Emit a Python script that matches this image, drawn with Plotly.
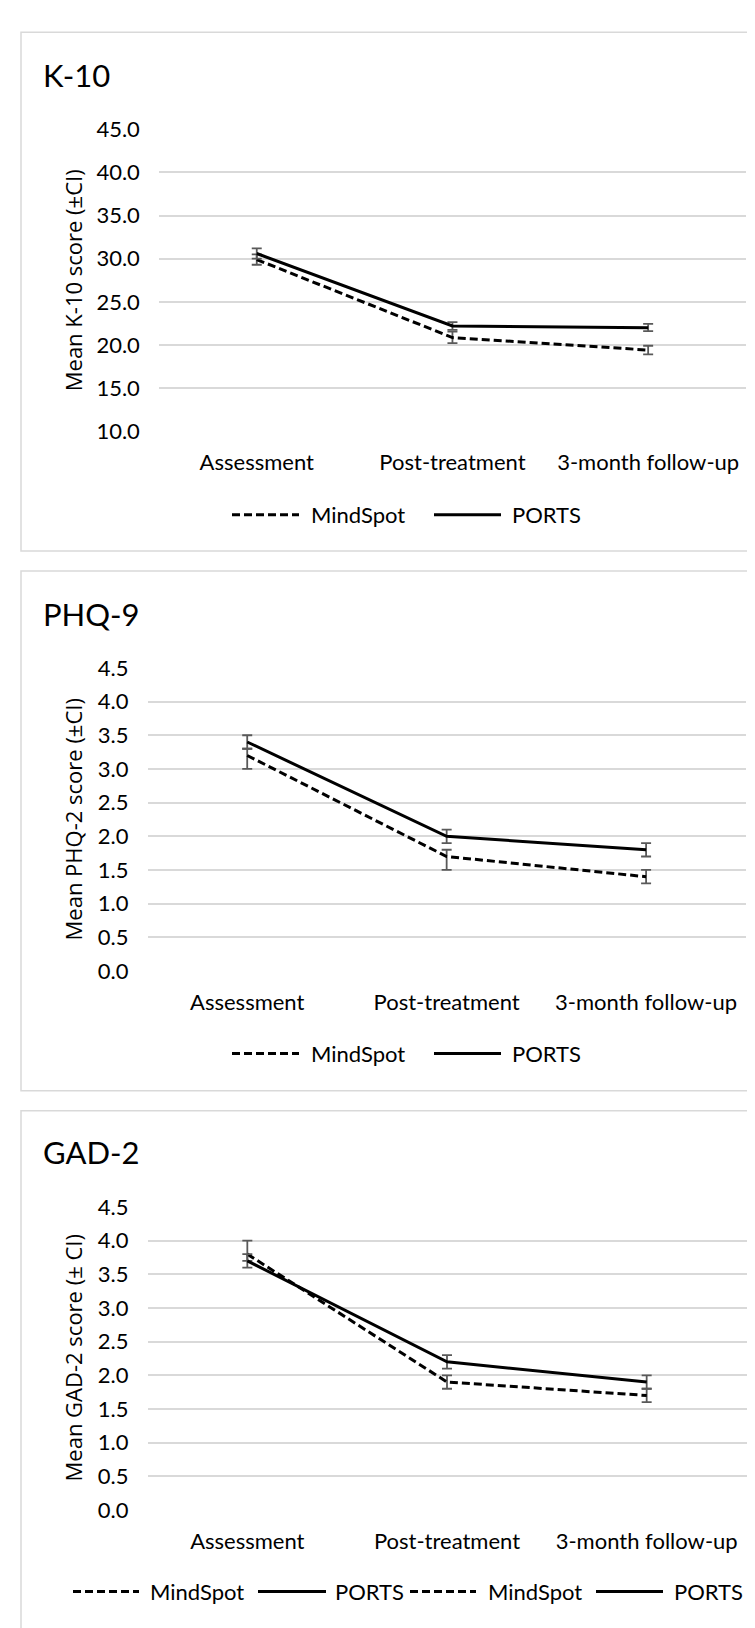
import plotly.graph_objects as go

# ---------------- data ----------------
categories = ["Assessment", "Post-treatment", "3-month follow-up"]
series_names = ["MindSpot", "PORTS"]

k10_mindspot = [29.9, 20.85, 19.4]
k10_mindspot_plus = [0.6, 0.7, 0.5]
k10_mindspot_minus = [0.6, 0.65, 0.5]
k10_ports = [30.6, 22.2, 22.0]
k10_ports_plus = [0.6, 0.45, 0.45]
k10_ports_minus = [0.6, 0.45, 0.4]

phq_mindspot = [3.2, 1.7, 1.4]
phq_mindspot_plus = [0.1, 0.1, 0.1]
phq_mindspot_minus = [0.2, 0.2, 0.1]
phq_ports = [3.4, 2.0, 1.8]
phq_ports_plus = [0.1, 0.1, 0.1]
phq_ports_minus = [0.1, 0.1, 0.1]

gad_mindspot = [3.8, 1.9, 1.7]
gad_mindspot_plus = [0.2, 0.1, 0.1]
gad_mindspot_minus = [0.1, 0.1, 0.1]
gad_ports = [3.7, 2.2, 1.9]
gad_ports_plus = [0.1, 0.1, 0.1]
gad_ports_minus = [0.1, 0.1, 0.1]

panel_titles = ["K-10", "PHQ-9", "GAD-2"]
y_titles = ["Mean K-10 score (±CI)", "Mean PHQ-2 score (±CI)", "Mean GAD-2 score (± CI)"]
y_ranges = [[10, 45], [0, 4.5], [0, 4.5]]
y_dticks = [5, 0.5, 0.5]
legend_labels = [["MindSpot", "PORTS"], ["MindSpot", "PORTS"],
                 ["MindSpot", "PORTS", "MindSpot", "PORTS"]]

# ---------------- layout helpers ----------------
W, H = 755, 1628
def fx(x):
    return x / W
def fy(y):
    return 1 - y / H

TICK_FONT = dict(family="Lato", size=22, color="#000000")
TITLE_FONT = dict(family="Lato", size=31, color="#000000")
YT_FONT = dict(family="Open Sans", size=22, color="#000000")
GRID = "#d9d9d9"
ERR = "#595959"
DASH = "8px,4px"

panels = [
    dict(ms=k10_mindspot, msp=k10_mindspot_plus, msm=k10_mindspot_minus,
         pt=k10_ports, ptp=k10_ports_plus, ptm=k10_ports_minus,
         xdom=(150.9, 738.0), ydom=(109.2, 416.0), border=(10.3, 538.0),
         title_y=53.5, legend_y=501,
         legend_items=[(224, 291, 301), (426, 493, 502)]),
    dict(ms=phq_mindspot, msp=phq_mindspot_plus, msm=phq_mindspot_minus,
         pt=phq_ports, ptp=phq_ports_plus, ptm=phq_ports_minus,
         xdom=(139.5, 737.8), ydom=(656.8, 965.0), border=(558.3, 1086.7),
         title_y=601.6, legend_y=1049,
         legend_items=[(224, 291, 301), (426, 493, 502)]),
    dict(ms=gad_mindspot, msp=gad_mindspot_plus, msm=gad_mindspot_minus,
         pt=gad_ports, ptp=gad_ports_plus, ptm=gad_ports_minus,
         xdom=(139.5, 738.5), ydom=(1205.0, 1513.0), border=(1107.0, 1660.0),
         title_y=1149.2, legend_y=1596,
         legend_items=[(65, 131, 139.6), (250, 318, 325), (402, 468, 478), (588, 655, 663.5)]),
]

fig = go.Figure()
shapes = []
annotations = []
layout_axes = {}

for i, p in enumerate(panels):
    n = "" if i == 0 else str(i + 1)
    xa, ya = "x" + n, "y" + n
    # panel border
    shapes.append(dict(type="rect", xref="paper", yref="paper",
                       x0=fx(13), x1=fx(W + 20), y0=fy(p["border"][1]), y1=fy(p["border"][0]),
                       line=dict(color=GRID, width=1.5), fillcolor="rgba(0,0,0,0)", layer="below"))
    # traces
    fig.add_trace(go.Scatter(
        x=categories, y=p["ms"], name=series_names[0], mode="lines", xaxis=xa, yaxis=ya,
        line=dict(color="#000000", width=3, dash=DASH), showlegend=False,
        error_y=dict(type="data", symmetric=False, array=p["msp"], arrayminus=p["msm"],
                     color=ERR, thickness=1.8, width=5)))
    fig.add_trace(go.Scatter(
        x=categories, y=p["pt"], name=series_names[1], mode="lines", xaxis=xa, yaxis=ya,
        line=dict(color="#000000", width=3), showlegend=False,
        error_y=dict(type="data", symmetric=False, array=p["ptp"], arrayminus=p["ptm"],
                     color=ERR, thickness=1.8, width=5)))
    layout_axes["xaxis" + n] = dict(
        domain=[fx(p["xdom"][0]), fx(p["xdom"][1])], type="category",
        categoryorder="array", categoryarray=categories, range=[-0.5, 2.5],
        showgrid=False, zeroline=False, showline=False, ticks="",
        tickfont=TICK_FONT, ticklabelstandoff=16, anchor=ya, fixedrange=True)
    layout_axes["yaxis" + n] = dict(
        domain=[fy(p["ydom"][1]), fy(p["ydom"][0])], range=y_ranges[i], dtick=y_dticks[i],
        tick0=0, tickformat=".1f", showgrid=True, gridcolor=GRID, gridwidth=1.5,
        zeroline=False, showline=False, ticks="", tickfont=TICK_FONT,
        ticklabelstandoff=18, anchor=xa, fixedrange=True)
    # panel title
    annotations.append(dict(text=panel_titles[i], xref="paper", yref="paper",
                            x=fx(33), y=fy(p["title_y"]), xanchor="left", yanchor="middle",
                            showarrow=False, font=TITLE_FONT))
    # y-axis title
    annotations.append(dict(text=y_titles[i], xref="paper", yref="paper",
                            x=fx(65), y=fy((p["ydom"][0] + p["ydom"][1]) / 2),
                            xanchor="center", yanchor="middle", textangle=-90,
                            showarrow=False, font=YT_FONT))
    # legend
    for j, (lx0, lx1, tx) in enumerate(p["legend_items"]):
        dashed = (j % 2 == 0)
        shapes.append(dict(type="line", xref="paper", yref="paper",
                           x0=fx(lx0), x1=fx(lx1), y0=fy(p["legend_y"]), y1=fy(p["legend_y"]),
                           line=dict(color="#000000", width=3, dash=DASH if dashed else "solid")))
        annotations.append(dict(text=legend_labels[i][j], xref="paper", yref="paper",
                                x=fx(tx), y=fy(p["legend_y"]), xanchor="left", yanchor="middle",
                                showarrow=False, font=TICK_FONT))

fig.update_layout(
    width=W, height=H, margin=dict(l=0, r=0, t=0, b=0),
    paper_bgcolor="white", plot_bgcolor="white",
    shapes=shapes, annotations=annotations, showlegend=False,
    **layout_axes)

fig.write_html("out.html")
